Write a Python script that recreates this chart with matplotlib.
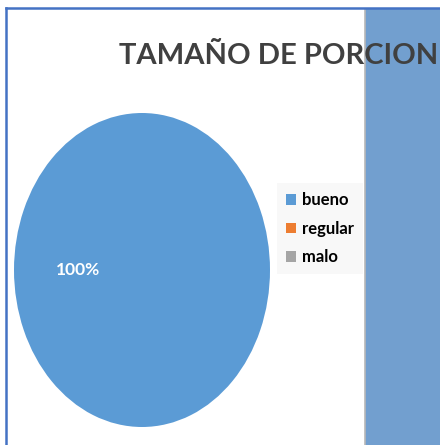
import matplotlib

matplotlib.use("Agg")

import matplotlib.pyplot as plt
from matplotlib.lines import Line2D
from matplotlib.patches import Rectangle

categories = ["bueno", "regular", "malo"]
values = [100, 0, 0]
colors = ["#5b9bd5", "#ed7d31", "#a5a5a5"]
title = "TAMAÑO DE PORCION"

FONT = ["Lato", "DejaVu Sans"]
W, H = 440, 445
fig = plt.figure(figsize=(W / 100, H / 100), dpi=100)
fig.patch.set_facecolor("white")


def fx(px):
    return px / W


def fy(py):
    return 1 - py / H


# pie stretched into an ellipse
ax = fig.add_axes([fx(14), fy(427), fx(270) - fx(14), fy(113) - fy(427)])
wedges, _, autotexts = ax.pie(
    values,
    colors=colors,
    startangle=0,
    autopct=lambda p: f"{p:.0f}%" if p > 0 else "",
    pctdistance=0.5,
    wedgeprops=dict(linewidth=0),
    textprops=dict(color="white", fontsize=12.5, fontweight="bold", family=FONT),
)
ax.set_aspect("auto")
ax.set_xlim(-1, 1)
ax.set_ylim(-1, 1)
ax.axis("off")

# right-hand blue panel
fig.patches.append(Rectangle((fx(365), 0), fx(440) - fx(365), fy(9), transform=fig.transFigure,
                             facecolor="#729fcf", edgecolor="none", zorder=0))
fig.lines.append(Line2D([fx(365), fx(365)], [0, fy(9)], transform=fig.transFigure,
                        color="#b8b8b8", linewidth=1.2))
# outer border lines
fig.lines.append(Line2D([fx(6), 1], [fy(8), fy(8)], transform=fig.transFigure,
                        color="#4472c4", linewidth=1.8))
fig.lines.append(Line2D([fx(6), fx(6)], [0, fy(8)], transform=fig.transFigure,
                        color="#4472c4", linewidth=1.8))

fig.text(fx(279), fy(56), title, ha="center", va="center", fontsize=21, fontweight="bold",
         color="#404040", family=FONT, zorder=5)

leg = fig.legend(
    wedges, categories,
    loc="upper left", bbox_to_anchor=(fx(277), fy(183)), borderaxespad=0,
    frameon=True, fancybox=False, handlelength=0.6, handleheight=0.6,
    handletextpad=0.35, labelspacing=0.75, borderpad=0.55,
    prop=dict(family=FONT, weight="bold", size=12),
)
leg.get_frame().set_facecolor("#f7f7f7")
leg.get_frame().set_edgecolor("none")

fig.savefig("out.png", dpi=100, facecolor="white")
